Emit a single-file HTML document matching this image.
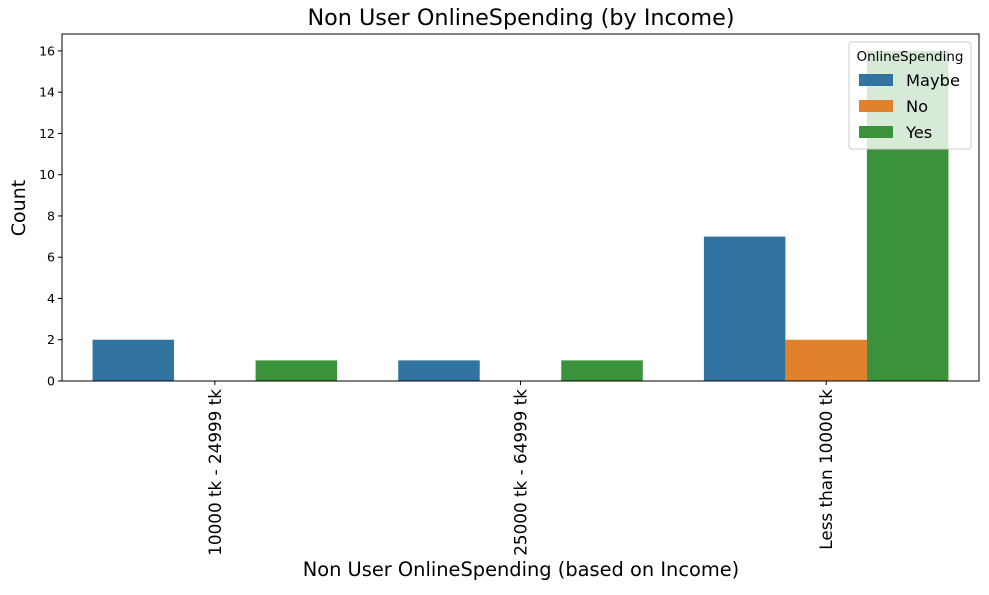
<!DOCTYPE html>
<html><head><meta charset="utf-8"><style>
body{margin:0;background:#fff;}
svg{font-family:"DejaVu Sans","Liberation Sans",sans-serif;}
</style></head><body>
<svg id="chart" width="989" height="590" viewBox="0 0 989 590">
<text x="521" y="25" font-size="22.3" text-anchor="middle">Non User OnlineSpending (by Income)</text>
<g id="bars"></g>
<g id="axes"></g>
<text x="521" y="576" font-size="19.4" text-anchor="middle">Non User OnlineSpending (based on Income)</text>
<text transform="translate(25,208) rotate(-90)" font-size="19" text-anchor="middle">Count</text>
<g>
<rect x="849" y="42" width="122" height="107" rx="3" fill="#fff" fill-opacity="0.8" stroke="#ccc"/>
<text x="910" y="61" font-size="13.5" text-anchor="middle">OnlineSpending</text>
<g id="legend-items"></g>
</g>
</svg>
<script>
const categories=["10000 tk - 24999 tk","25000 tk - 64999 tk","Less than 10000 tk"];
const seriesNames=["Maybe","No","Yes"];
const maybeValues=[2,1,7];
const noValues=[0,0,2];
const yesValues=[1,1,16];
const yTicks=[0,2,4,6,8,10,12,14,16];
const colors=["#3274a1","#e1812c","#3a923a"];
const series=[maybeValues,noValues,yesValues];
const L=62,R=979,T=34,B=381,yMax=16.82;
const NS="http://www.w3.org/2000/svg";
function y(v){return B-(v/yMax)*(B-T);}
const gw=(R-L)/categories.length;
function xc(i){return L+gw*(i+0.5);}
const bw=gw*0.8/seriesNames.length;
function mk(t,a,p){const e=document.createElementNS(NS,t);for(const k in a)e.setAttribute(k,a[k]);p.appendChild(e);return e;}
const bars=document.getElementById('bars');
series.forEach((vals,s)=>{vals.forEach((v,i)=>{
 const x0=xc(i)-gw*0.4+s*bw;
 const r=mk('rect',{x:x0,y:y(v),width:bw,height:B-y(v),fill:colors[s]},bars);
 
 
});});
const ax=document.getElementById('axes');
const fr=mk('rect',{x:L,y:T,width:R-L,height:B-T,fill:'none',stroke:'#000','stroke-width':1},ax);


yTicks.forEach(t=>{
 mk('line',{x1:L-4,x2:L,y1:y(t),y2:y(t),stroke:'#000'},ax);
 const tx=mk('text',{x:L-7,y:y(t)+4.5,'font-size':12.5,'text-anchor':'end'},ax);
 tx.textContent=t;
 
 
});
categories.forEach((c,i)=>{
 const x=xc(i);
 mk('line',{x1:x,x2:x,y1:B,y2:B+4,stroke:'#000'},ax);
 const tx=mk('text',{transform:`translate(${x+6},${B+8}) rotate(-90)`,'font-size':16.8,'text-anchor':'end'},ax);
 tx.textContent=c;
 
 
});
const lg=document.getElementById('legend-items');
seriesNames.forEach((n,s)=>{
 const yy=80+s*26;
 const r=mk('rect',{x:859,y:yy-6,width:34,height:12,fill:colors[s]},lg);
 
 
 const t=mk('text',{x:906,y:yy+6,'font-size':16.3},lg);
 t.textContent=n;
 
 
});
</script>
</body></html>
